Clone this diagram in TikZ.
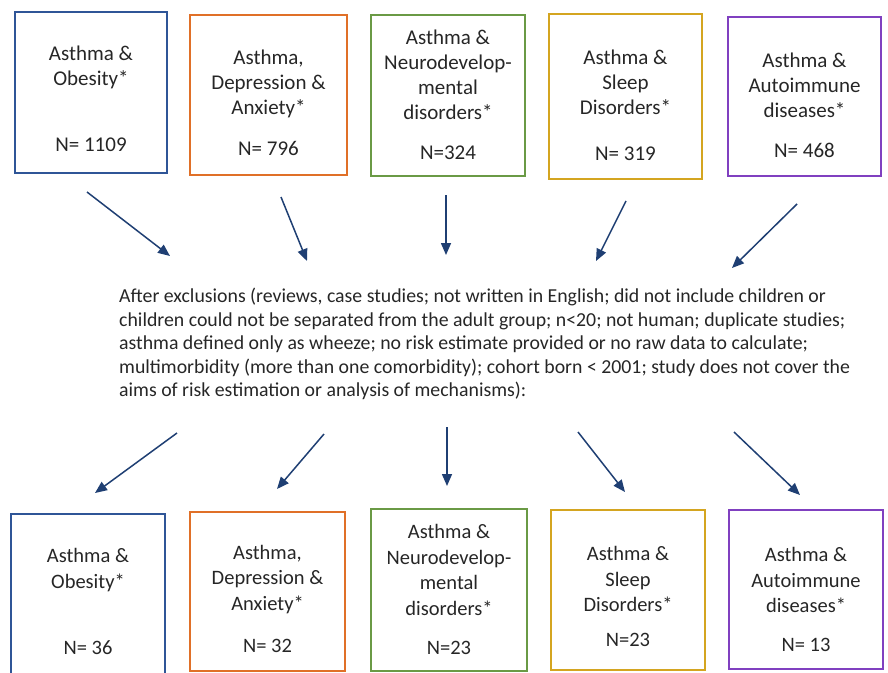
\documentclass[tikz,border=0pt]{standalone}
\usepackage{fontspec}
\setmainfont{Carlito}
\usetikzlibrary{arrows.meta}
\definecolor{cblue}{HTML}{2F5597}
\definecolor{corange}{HTML}{E07028}
\definecolor{cgreen}{HTML}{6A9A45}
\definecolor{cyellow}{HTML}{D4A520}
\definecolor{cpurple}{HTML}{8040C0}
\definecolor{carrow}{HTML}{1F3F73}
\definecolor{ctext}{HTML}{262626}
\tikzset{
  box/.style={draw=#1, line width=2pt, inner sep=0pt},
  toptext/.style={align=center, text=ctext, font=\fontsize{21}{25}\selectfont, inner sep=0pt},
  bottext/.style={align=center, text=ctext, font=\fontsize{20.5}{25.5}\selectfont, inner sep=0pt},
  midtext/.style={align=left, text=ctext, font=\fontsize{19.8}{23.5}\selectfont, inner sep=0pt, anchor=west},
  arr/.style={draw=carrow, line width=1.5pt, -{Triangle[length=12pt,width=10pt]}}
}
\begin{document}
\begin{tikzpicture}[x=1pt,y=-1pt]
\useasboundingbox (0,0) rectangle (888,672);
\clip (0,0) rectangle (888,672);
% top boxes
\node[box=cblue, minimum width=152pt, minimum height=161pt] (t1) at (91,92.5) {};
\node[box=corange, minimum width=157pt, minimum height=160pt] (t2) at (268.5,95) {};
\node[box=cgreen, minimum width=154pt, minimum height=161pt] (t3) at (448,95.5) {};
\node[box=cyellow, minimum width=153pt, minimum height=165pt] (t4) at (625.5,96.5) {};
\node[box=cpurple, minimum width=153pt, minimum height=159pt] (t5) at (804.5,96.5) {};
\node[toptext] (t1a) at (91,67.5) {Asthma \&\\Obesity*};
\node[toptext] (t1n) at (91,145) {N= 1109};
\node[toptext] (t2a) at (268.5,83.5) {Asthma,\\Depression \&\\Anxiety*};
\node[toptext] (t2n) at (268.5,148) {N= 796};
\node[toptext] (t3a) at (448,74.5) {Asthma \&\\Neurodevelop-\\mental\\disorders*};
\node[toptext] (t3n) at (448,153) {N=324};
\node[toptext] (t4a) at (625.5,82) {Asthma \&\\Sleep\\Disorders*};
\node[toptext] (t4n) at (625.5,154) {N= 319};
\node[toptext] (t5a) at (804.5,85.5) {Asthma \&\\Autoimmune\\diseases*};
\node[toptext] (t5n) at (804.5,150) {N= 468};
% middle text
\node[midtext] (mid) at (119,344) {After exclusions (reviews, case studies; not written in English; did not include children or\\children could not be separated from the adult group; n<20; not human; duplicate studies;\\asthma defined only as wheeze; no risk estimate provided or no raw data to calculate;\\multimorbidity (more than one comorbidity); cohort born < 2001; study does not cover the\\aims of risk estimation or analysis of mechanisms):};
% bottom boxes
\node[box=cblue, minimum width=154pt, minimum height=176pt] (b1) at (88,602) {};
\node[box=corange, minimum width=155pt, minimum height=159pt] (b2) at (267.5,591.5) {};
\node[box=cgreen, minimum width=156pt, minimum height=162pt] (b3) at (449,590) {};
\node[box=cyellow, minimum width=154pt, minimum height=160pt] (b4) at (628,590) {};
\node[box=cpurple, minimum width=154pt, minimum height=159pt] (b5) at (806,589.5) {};
\node[bottext] (b1a) at (88,570) {Asthma \&\\Obesity*};
\node[bottext] (b1n) at (88,648) {N= 36};
\node[bottext] (b2a) at (267.5,579.5) {Asthma,\\Depression \&\\Anxiety*};
\node[bottext] (b2n) at (267.5,646) {N= 32};
\node[bottext] (b3a) at (449,570) {Asthma \&\\Neurodevelop-\\mental\\disorders*};
\node[bottext] (b3n) at (449,648) {N=23};
\node[bottext] (b4a) at (628,579) {Asthma \&\\Sleep\\Disorders*};
\node[bottext] (b4n) at (628,640) {N=23};
\node[bottext] (b5a) at (806,580) {Asthma \&\\Autoimmune\\diseases*};
\node[bottext] (b5n) at (806,645) {N= 13};
% arrow end points
\coordinate (u1s) at (87,192);  \coordinate (u1e) at (170,256);
\coordinate (u2s) at (281,197); \coordinate (u2e) at (307,261);
\coordinate (u3s) at (446,195); \coordinate (u3e) at (446,255);
\coordinate (u4s) at (626,201); \coordinate (u4e) at (596,261);
\coordinate (u5s) at (797,204); \coordinate (u5e) at (732,268);
\coordinate (d1s) at (177,433); \coordinate (d1e) at (95,493);
\coordinate (d2s) at (324,434); \coordinate (d2e) at (277,489);
\coordinate (d3s) at (447,427); \coordinate (d3e) at (447,486);
\coordinate (d4s) at (578,432); \coordinate (d4e) at (625,492);
\coordinate (d5s) at (734,432); \coordinate (d5e) at (800,495);
\foreach \i in {1,...,5} {
  \draw[arr] (u\i s) -- (u\i e);
  \draw[arr] (d\i s) -- (d\i e);
}
\end{tikzpicture}
\end{document}
